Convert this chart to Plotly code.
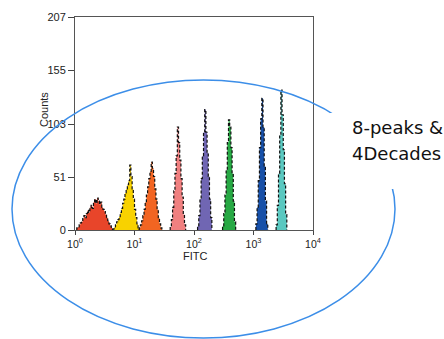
import plotly.graph_objects as go

# ---- data -------------------------------------------------------------
BIN_STEP = 0.02  # bin width in decades

peak_names = ["P1", "P2", "P3", "P4", "P5", "P6", "P7", "P8"]
peak_colors = ["#e8452a", "#f8d200", "#f26522", "#f08080",
               "#7066b3", "#27a844", "#1750a8", "#5ac8c0"]
# log10 of the left edge of the first bin of each peak
peak_starts = [0.03, 0.64, 1.08, 1.60, 2.06, 2.48, 3.04, 3.38]

red_counts = [2, 3, 5, 7, 8, 11, 14, 12, 16, 19, 17, 22, 24, 21, 27, 30,
              26, 31, 28, 25, 27, 22, 20, 18, 15, 12, 9, 6, 4, 2]
yellow_counts = [1, 3, 5, 8, 10, 13, 17, 21, 26, 30, 36, 40, 44, 48, 63,
                 52, 40, 30, 20, 12, 6, 2]
orange_counts = [2, 5, 9, 14, 20, 27, 34, 42, 50, 57, 66, 60, 52, 40, 30,
                 20, 12, 6, 2]
pink_counts = [3, 10, 22, 38, 55, 72, 100, 85, 68, 50, 32, 15, 5]
purple_counts = [4, 14, 30, 50, 72, 95, 117, 95, 75, 52, 30, 12]
green_counts = [4, 16, 34, 58, 85, 107, 100, 80, 55, 28, 8]
blue_counts = [6, 22, 48, 80, 108, 128, 100, 62, 28, 6]
teal_counts = [5, 24, 55, 92, 136, 112, 78, 45, 15]

peak_counts = [red_counts, yellow_counts, orange_counts, pink_counts,
               purple_counts, green_counts, blue_counts, teal_counts]

x_tick_exps = [0, 1, 2, 3, 4]
x_tick_labels = ["10<sup>0</sup>", "10<sup>1</sup>", "10<sup>2</sup>",
                 "10<sup>3</sup>", "10<sup>4</sup>"]
y_tick_vals = [0, 51, 103, 155, 207]
y_tick_labels = ["0", "51", "103", "155", "207"]

# ---- figure -----------------------------------------------------------
fig = go.Figure()
for name, color, start, counts in zip(peak_names, peak_colors,
                                      peak_starts, peak_counts):
    edges = [10 ** (start + BIN_STEP * i) for i in range(len(counts) + 1)]
    xs = [edges[0]] + edges
    ys = [0] + list(counts) + [0]
    fig.add_trace(go.Scatter(
        x=xs, y=ys, mode="lines", name=name,
        line=dict(color="#111111", width=1.2, dash="3px,2px", shape="hv"),
        fill="tozeroy", fillcolor=color, showlegend=False,
        hoverinfo="skip"))

W, H = 444, 339
L, T = 75, 17
pw, ph = 238, 213
R, B = W - L - pw, H - T - ph


def px(x):  # screen pixel -> paper x
    return (x - L) / pw


def py(y):  # screen pixel -> paper y
    return (T + ph - y) / ph


axis_font = dict(family="Liberation Sans, Arial, sans-serif", size=11,
                 color="#222222")
xtick_font = dict(family="Liberation Sans, Arial, sans-serif", size=10.5,
                  color="#222222")

fig.update_layout(
    width=W, height=H,
    margin=dict(l=L, r=R, t=T, b=B, pad=0),
    paper_bgcolor="white", plot_bgcolor="white",
    xaxis=dict(type="log", range=[0, 4],
               tickvals=[10 ** e for e in x_tick_exps],
               ticktext=x_tick_labels,
               ticks="outside", ticklen=4, tickcolor="#444444",
               showgrid=False, zeroline=False,
               showline=True, linecolor="#555555", linewidth=1,
               mirror=True, tickfont=xtick_font),
    yaxis=dict(range=[0, 207], tickvals=y_tick_vals, ticktext=y_tick_labels,
               ticks="outside", ticklen=6, tickcolor="#444444",
               showgrid=False, zeroline=False,
               showline=True, linecolor="#555555", linewidth=1,
               mirror=True, tickfont=axis_font),
    font=axis_font,
)

# axis titles
fig.add_annotation(text="FITC", xref="paper", yref="paper",
                   x=px(195), y=py(264), showarrow=False,
                   font=dict(family="Liberation Sans, Arial, sans-serif",
                             size=11, color="#222222"))
fig.add_annotation(text="Counts", xref="paper", yref="paper",
                   x=px(36), y=py(110), showarrow=False, textangle=-90,
                   font=dict(family="Liberation Sans, Arial, sans-serif",
                             size=11, color="#222222"))

# blue ellipse and the gap behind the side note
fig.add_shape(type="circle", xref="paper", yref="paper",
              x0=px(12), x1=px(395), y0=py(338), y1=py(80),
              line=dict(color="#3c8ee8", width=1.5), layer="above")
fig.add_shape(type="rect", xref="paper", yref="paper",
              x0=px(330), x1=px(444), y0=py(189), y1=py(113),
              line=dict(width=0), fillcolor="white", layer="above")

note_font = dict(family="DejaVu Sans, Verdana, sans-serif", size=18,
                 color="#111111")
fig.add_annotation(text="8-peaks &", xref="paper", yref="paper",
                   x=px(350), y=py(127), xanchor="left", yanchor="middle",
                   showarrow=False, font=note_font)
fig.add_annotation(text="4Decades", xref="paper", yref="paper",
                   x=px(350), y=py(153), xanchor="left", yanchor="middle",
                   showarrow=False, font=note_font)

fig.write_html(
    "out.html",
    config={"displayModeBar": False},
    post_script="document.body.style.margin='0';"
                "document.body.style.overflow='hidden';")
